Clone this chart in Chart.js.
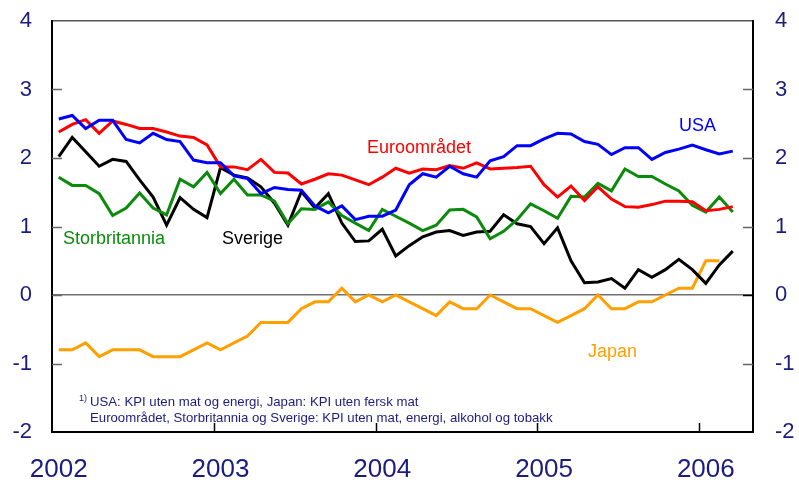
<!DOCTYPE html>
<html><head><meta charset="utf-8">
<script src="https://cdn.jsdelivr.net/npm/chart.js@4.4.0/dist/chart.umd.min.js"></script>
<style>html,body{margin:0;padding:0;background:#fff;}#wrap{width:799px;height:485px;}</style>
</head><body><div id="wrap"><canvas id="c" width="799" height="485"></canvas></div>
<script>
const months = [
 '2002-01','2002-02','2002-03','2002-04','2002-05','2002-06','2002-07','2002-08','2002-09','2002-10','2002-11','2002-12',
 '2003-01','2003-02','2003-03','2003-04','2003-05','2003-06','2003-07','2003-08','2003-09','2003-10','2003-11','2003-12',
 '2004-01','2004-02','2004-03','2004-04','2004-05','2004-06','2004-07','2004-08','2004-09','2004-10','2004-11','2004-12',
 '2005-01','2005-02','2005-03','2005-04','2005-05','2005-06','2005-07','2005-08','2005-09','2005-10','2005-11','2005-12',
 '2006-01','2006-02','2006-03','2006-04'];
const yearLabels = ['2002','2003','2004','2005','2006'];
const usa = [2.57,2.62,2.43,2.55,2.55,2.27,2.22,2.36,2.27,2.24,1.97,1.93,
 1.93,1.74,1.70,1.48,1.57,1.54,1.53,1.30,1.20,1.30,1.10,1.15,
 1.15,1.24,1.61,1.77,1.72,1.88,1.77,1.72,1.96,2.02,2.18,2.18,
 2.28,2.36,2.35,2.24,2.20,2.05,2.15,2.15,1.98,2.08,2.13,2.19,
 2.12,2.06,2.10];
const euro = [2.38,2.49,2.56,2.36,2.54,2.49,2.43,2.43,2.38,2.32,2.30,2.19,
 1.87,1.87,1.83,1.98,1.79,1.78,1.62,1.69,1.77,1.75,1.68,1.61,
 1.72,1.85,1.78,1.84,1.83,1.89,1.85,1.93,1.84,1.85,1.86,1.88,
 1.61,1.43,1.59,1.38,1.58,1.40,1.29,1.28,1.32,1.37,1.37,1.36,
 1.23,1.25,1.29];
const uk = [1.72,1.60,1.60,1.48,1.16,1.27,1.49,1.27,1.17,1.69,1.58,1.79,
 1.48,1.69,1.46,1.46,1.37,1.04,1.26,1.25,1.36,1.16,1.05,0.94,
 1.25,1.15,1.05,0.94,1.02,1.24,1.25,1.14,0.82,0.93,1.10,1.33,
 1.23,1.12,1.44,1.43,1.63,1.52,1.84,1.73,1.73,1.62,1.52,1.31,
 1.21,1.43,1.21];
const sweden = [2.02,2.30,2.09,1.88,1.98,1.95,1.68,1.43,1.02,1.42,1.25,1.13,
 1.86,1.75,1.71,1.58,1.34,1.02,1.51,1.27,1.48,1.05,0.78,0.79,
 0.96,0.57,0.72,0.85,0.92,0.94,0.87,0.92,0.93,1.17,1.04,1.00,
 0.75,0.98,0.50,0.18,0.19,0.24,0.10,0.37,0.26,0.37,0.52,0.37,
 0.17,0.44,0.64];
const japan = [-0.8,-0.8,-0.7,-0.9,-0.8,-0.8,-0.8,-0.9,-0.9,-0.9,-0.8,-0.7,
 -0.8,-0.7,-0.6,-0.4,-0.4,-0.4,-0.2,-0.1,-0.1,0.1,-0.1,0,
 -0.1,0,-0.1,-0.2,-0.3,-0.1,-0.2,-0.2,0,-0.1,-0.2,-0.2,
 -0.3,-0.4,-0.3,-0.2,0,-0.2,-0.2,-0.1,-0.1,0,0.1,0.1,
 0.5,0.5];
const yMin = -2, yMax = 4, yStep = 1;

const FONT = '"Liberation Sans", Arial, Helvetica, sans-serif';
const NAVY = '#1c1c7e';
const C_USA = '#0000ff', C_EURO = '#ff0000', C_UK = '#0b8a0b', C_SE = '#000000', C_JP = '#ffa000';
const CLEAR = 'rgba(0,0,0,0)';

function ds(label, data, color) {
  return { label, data, borderColor: color, backgroundColor: color, borderWidth: 3,
           pointRadius: 0, tension: 0, fill: false, borderJoinStyle: 'miter' };
}

const tickMarks = {
  id: 'tickMarks',
  afterDatasetsDraw(chart) {
    const { ctx, chartArea: a, scales: { x, y } } = chart;
    ctx.save();
    ctx.lineWidth = 1.5;
    y.ticks.forEach(t => {
      if (t.value <= yMin || t.value >= yMax) return;
      const py = Math.round(y.getPixelForValue(t.value)) + 0.5;
      ctx.strokeStyle = '#666';
      ctx.beginPath(); ctx.moveTo(a.left, py); ctx.lineTo(a.left + 10, py); ctx.stroke();
      ctx.strokeStyle = t.value === 0 ? '#000' : '#666';
      ctx.beginPath(); ctx.moveTo(a.right - 10, py); ctx.lineTo(a.right, py); ctx.stroke();
    });
    ctx.strokeStyle = '#000';
    months.forEach((m, i) => {
      if (i % 12 === 0 && i > 0) {
        const px = Math.round(x.getPixelForValue(i - 0.5)) + 0.5;
        ctx.beginPath(); ctx.moveTo(px, a.bottom); ctx.lineTo(px, a.bottom - 9); ctx.stroke();
      }
    });
    ctx.restore();
  }
};

const seriesText = [
  { text: 'USA', color: C_USA, x: 679, y: 131 },
  { text: 'Euroområdet', color: C_EURO, x: 367, y: 153 },
  { text: 'Storbritannia', color: C_UK, x: 63, y: 244 },
  { text: 'Sverige', color: C_SE, x: 222, y: 244 },
  { text: 'Japan', color: C_JP, x: 588, y: 357 }
];
const noteLines = [
  'USA: KPI uten mat og energi, Japan: KPI uten fersk mat',
  'Euroområdet, Storbritannia og Sverige: KPI uten mat, energi, alkohol og tobakk'
];

const textPlugin = {
  id: 'textPlugin',
  afterDatasetsDraw(chart) {
    const ctx = chart.ctx;
    ctx.save();
    ctx.textBaseline = 'alphabetic';
    ctx.textAlign = 'left';
    ctx.font = '18px ' + FONT;
    seriesText.forEach(s => { ctx.fillStyle = s.color; ctx.fillText(s.text, s.x, s.y); });
    ctx.fillStyle = NAVY;
    ctx.font = '9px ' + FONT;
    ctx.fillText('1)', 79, 401);
    ctx.font = '13.2px ' + FONT;
    ctx.fillText(noteLines[0], 90, 406);
    ctx.fillText(noteLines[1], 90, 422);
    ctx.restore();
  }
};

new Chart(document.getElementById('c'), {
  type: 'line',
  data: {
    labels: months,
    datasets: [
      ds('USA', usa, C_USA),
      ds('Euroområdet', euro, C_EURO),
      ds('Storbritannia', uk, C_UK),
      ds('Sverige', sweden, C_SE),
      ds('Japan', japan, C_JP)
    ]
  },
  options: {
    responsive: false,
    animation: false,
    devicePixelRatio: 1,
    layout: { padding: { top: 21, left: 0, right: 0, bottom: 0 } },
    plugins: { legend: { display: false }, tooltip: { enabled: false } },
    scales: {
      x: {
        type: 'category', offset: true,
        grid: { display: false, offset: true, drawTicks: false },
        border: { display: true, color: '#000', width: 2 },
        ticks: {
          autoSkip: false, maxRotation: 0, minRotation: 0, padding: 22,
          color: NAVY, font: { size: 26, family: FONT },
          callback: (v, i) => (i % 12 === 0 ? yearLabels[i / 12] : '')
        },
        afterFit: s => { s.height = 53; }
      },
      y: {
        position: 'left', min: yMin, max: yMax,
        ticks: { stepSize: yStep, padding: 2, color: NAVY, font: { size: 22, family: FONT } },
        grid: {
          drawTicks: true, tickLength: 18, tickColor: CLEAR,
          color: c => (c.tick && c.tick.value === 0 ? '#707070' : (c.tick && c.tick.value === yMax ? '#555' : CLEAR)),
          lineWidth: 1.5
        },
        border: { display: true, color: '#000', width: 2 },
        afterFit: s => { s.width = 52; }
      },
      y2: {
        position: 'right', min: yMin, max: yMax,
        ticks: { stepSize: yStep, padding: 2, color: NAVY, font: { size: 22, family: FONT } },
        grid: { display: true, drawOnChartArea: false, drawTicks: true, tickLength: 20, tickColor: CLEAR, color: CLEAR },
        border: { display: true, color: '#000', width: 2 },
        afterFit: s => { s.width = 46; }
      }
    }
  },
  plugins: [tickMarks, textPlugin]
});
</script>
</body></html>
